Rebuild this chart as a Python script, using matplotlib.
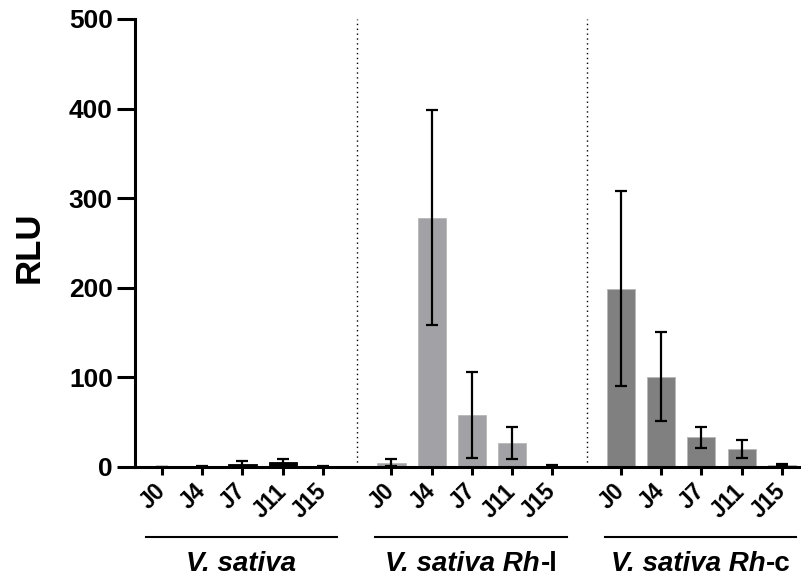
import matplotlib
matplotlib.use("Agg")
import matplotlib.pyplot as plt
import numpy as np

plt.rcParams['font.family'] = ['Liberation Sans', 'DejaVu Sans']

days = ["J0", "J4", "J7", "J11", "J15"]
groups = ["V. sativa", "V. sativa Rh", "V. sativa Rh"]
group_suffix = ["", "-l", "-c"]
means_sativa = [0, 1, 3, 6, 1]
err_sativa = [0, 0.5, 4, 3, 0.5]
means_rhl = [5, 278, 58, 27, 1]
err_rhl = [4, 120, 48, 18, 1]
means_rhc = [199, 101, 33, 20, 2]
err_rhc = [109, 50, 12, 10.5, 1]
bar_colors = ["#000000", "#a2a2a6", "#808080"]

all_means = [means_sativa, means_rhl, means_rhc]
all_errs = [err_sativa, err_rhl, err_rhc]

fig = plt.figure(figsize=(8.01, 5.77), dpi=100)
ax = fig.add_axes([135/801, 1-467/577, 665/801, 448/577])

group_offset = 5.7
positions = []
labels = []
for g in range(3):
    x = np.arange(5) + g*group_offset
    ax.bar(x, all_means[g], width=0.7, color=bar_colors[g],
           edgecolor=("#000000" if g == 0 else "#b8b8b8"), linewidth=0.6, zorder=2)
    ax.errorbar(x, all_means[g], yerr=all_errs[g], fmt='none', ecolor='black',
                elinewidth=1.6, capsize=4.5, capthick=1.6, zorder=3)
    positions.extend(x)
    labels.extend(days)

for g in range(2):
    xm = 4 + g*group_offset + (group_offset - 4)/2
    ax.axvline(xm, ymin=0, ymax=1, color='black', linestyle=(0, (1, 2.5)), linewidth=1.0, zorder=1)

ax.set_xlim(-0.67, 15.85)
ax.set_ylim(0, 500)
ax.set_yticks([0, 100, 200, 300, 400, 500])
ax.set_xticks(positions)
ax.set_xticklabels(labels, rotation=45, ha='right', va='center',
                   rotation_mode='anchor', fontsize=16.5, fontweight='bold')
for lab in ax.get_yticklabels():
    lab.set_fontsize(19)
    lab.set_fontweight('bold')
ax.tick_params(axis='y', length=13, width=2.2, pad=3)
ax.tick_params(axis='x', length=6, width=2.2, pad=9)
for s in ['top', 'right']:
    ax.spines[s].set_visible(False)
for s in ['left', 'bottom']:
    ax.spines[s].set_linewidth(2.2)

ax.set_ylabel("RLU", fontsize=25, fontweight='bold')
ax.yaxis.set_label_coords(-0.134, 0.49)

# group labels with underline
trans = ax.get_xaxis_transform()
ylab = -0.2321
for g in range(3):
    x0 = g*group_offset - 0.4
    x1 = 4 + g*group_offset + 0.35
    ax.plot([x0, x1], [-0.156, -0.156], color='black', linewidth=1.5,
            transform=trans, clip_on=False)
    xc = (x0 + x1) / 2
    if group_suffix[g]:
        t1 = ax.text(xc, ylab, groups[g], transform=trans, ha='center', va='baseline',
                     fontsize=20, fontweight='bold', style='italic')
        fig.canvas.draw()
        r = fig.canvas.get_renderer()
        bb1 = t1.get_window_extent(renderer=r)
        t2 = ax.text(0, 0, group_suffix[g], fontsize=20, fontweight='bold')
        bb2 = t2.get_window_extent(renderer=r)
        w1, w2 = bb1.width, bb2.width
        total = w1 + w2
        cx_pix = (bb1.x0 + bb1.x1) / 2
        inv = ax.transData.inverted()
        left_pix = cx_pix - total/2
        t1.set_ha('left')
        t1.set_x(inv.transform((left_pix, 0))[0])
        t2.set_transform(trans)
        t2.set_position((inv.transform((left_pix + w1 + 1, 0))[0], ylab))
        t2.set_va('baseline')
        t2.set_ha('left')
        t2.set_clip_on(False)
    else:
        ax.text(xc, ylab, groups[g], transform=trans, ha='center', va='baseline',
                fontsize=20, fontweight='bold', style='italic')

fig.savefig("out.png", dpi=100)
